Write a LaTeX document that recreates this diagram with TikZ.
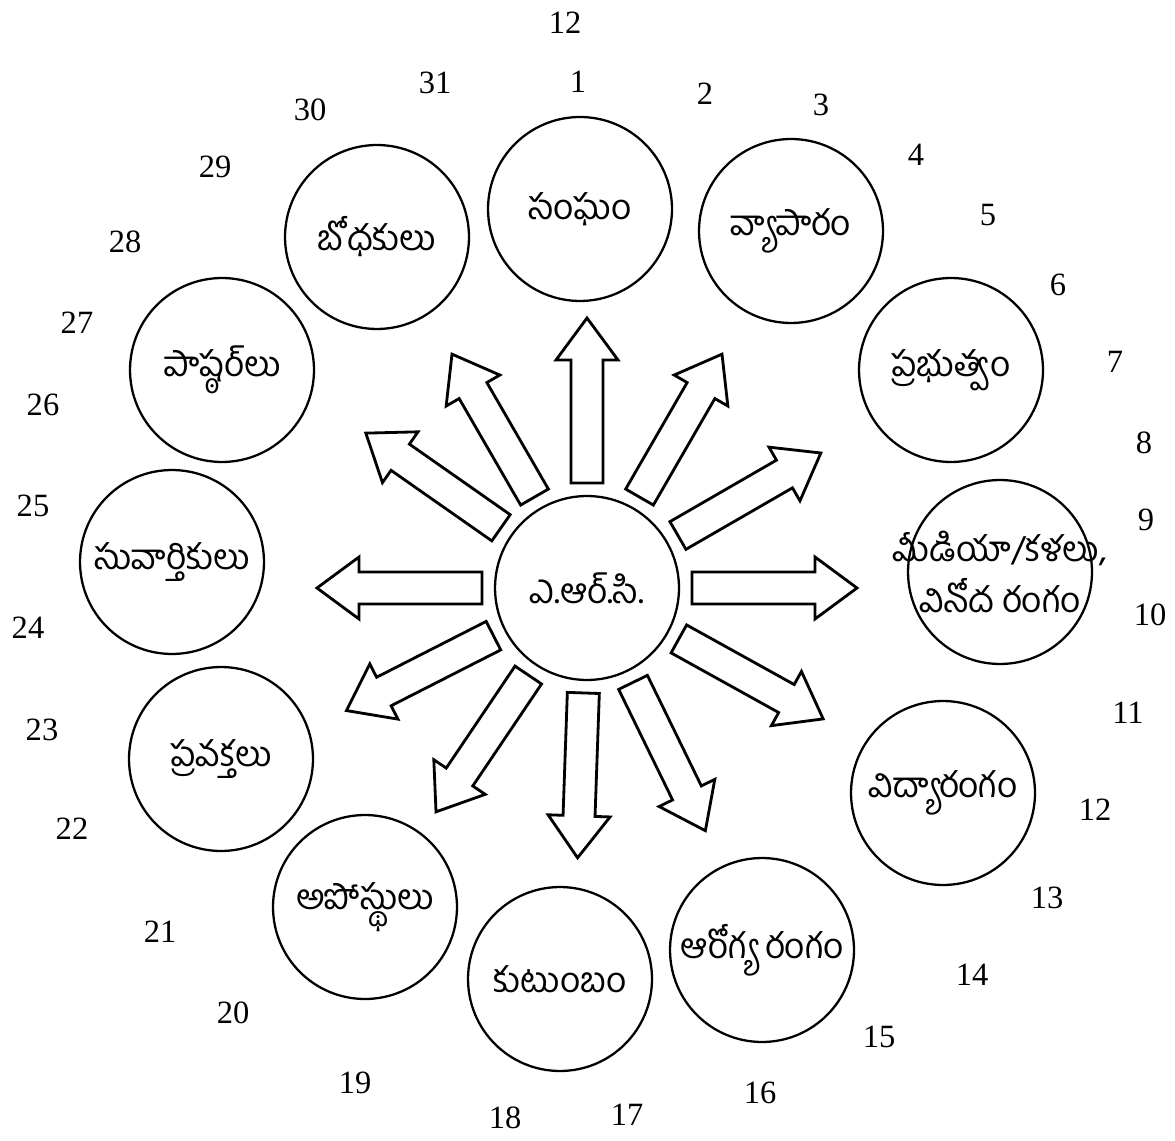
\documentclass[tikz,border=0pt]{standalone}
\usepackage{fontspec}
\setmainfont{Liberation Serif}
\newfontfamily\telugufont[Script=Telugu]{Hind Guntur}
\newcommand{\zwnj}{\char"200C\relax}
\begin{document}
\begin{tikzpicture}[
  x=0.02cm, y=-0.02cm,
  disc/.style={draw, circle, line width=1.3pt, minimum size=3.68cm, inner sep=0pt, font=\telugufont\fontsize{20}{28}\selectfont},
  num/.style={font=\fontsize{18.5}{22}\selectfont},
  arrowline/.style={line width=1.6pt, line join=miter},
  blockarrow/.pic={
    \draw[arrowline] (105,-16) -- (228,-16) -- (228,-31) -- (270,0) -- (228,31) -- (228,16) -- (105,16) -- cycle;
  }
]
  \useasboundingbox (0,0) rectangle (1175,1141);

  % Circles
  \node[disc] (arc) at (587,588) {ఎ.ఆర్.సి.};
  \node[disc] (sangham) at (580,209) {సంఘం};
  \node[disc] (vyaparam) at (791,231) {వ్యాపారం};
  \node[disc] (prabhutvam) at (951,370) {ప్రభుత్వం};
  \node[disc, label={[font=\telugufont\fontsize{20}{29.5}\selectfont, align=center]center:{మీడియా/కళలు,\\వినోద రంగం}}] (media) at (1000,572) {};
  \node[disc] (vidya) at (943,793) {విద్యారంగం};
  \node[disc] (arogya) at (762,950) {ఆరోగ్య రంగం};
  \node[disc] (kutumbam) at (560,979) {కుటుంబం};
  \node[disc] (aposthulu) at (365,907) {అపోస్థులు};
  \node[disc] (pravakthalu) at (221,759) {ప్రవక్తలు};
  \node[disc] (suvarthikulu) at (172,562) {సువార్తికులు};
  \node[disc] (pastors) at (222,370) {పాష్ఠర్\zwnj లు};
  \node[disc] (bodhakulu) at (377,237) {బోధకులు};

  % Arrows
  \foreach \ang in {90,60,30,0,-29,-64,-92,-124,-153,180,145,120}
    \pic[rotate=\ang] at (arc) {blockarrow};

  % Numbers
  \foreach \nx/\ny/\txt [count=\i] in {565/23/12, 578/82/1, 705/94/2, 821/105/3, 916/155/4,
      988/215/5, 1058/285/6, 1115/362/7, 1144/443/8, 1146/520/9, 1150/615/10,
      1128/713/11, 1095/810/12, 1047/898/13, 972/975/14, 879/1037/15, 760/1093/16,
      627/1115/17, 505/1118/18, 355/1083/19, 233/1013/20, 160/932/21, 72/829/22,
      42/730/23, 28/628/24, 33/506/25, 43/405/26, 77/323/27, 125/242/28,
      215/167/29, 310/110/30, 435/83/31}
    \node[num] (n\i) at (\nx,\ny) {\txt};
\end{tikzpicture}
\end{document}
